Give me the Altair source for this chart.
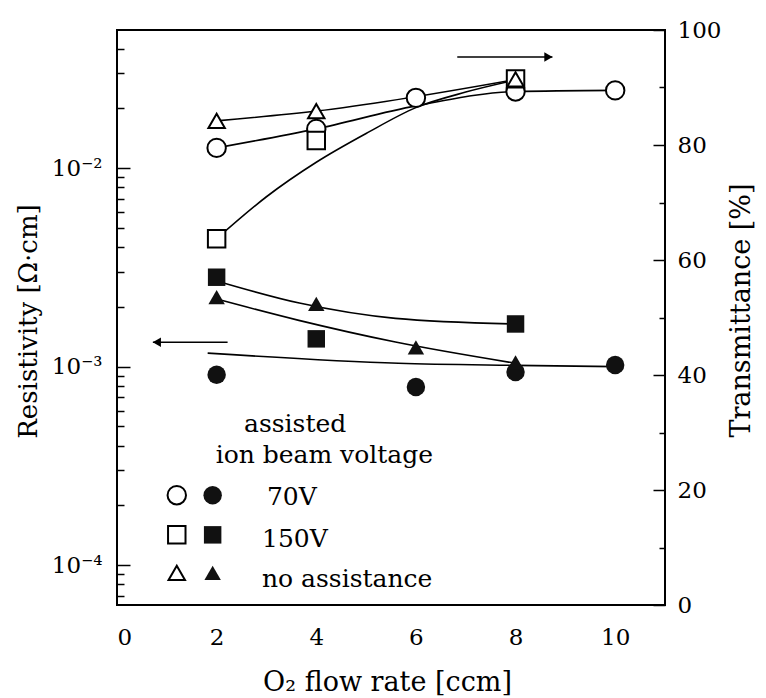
import altair as alt
import pandas as pd

FONT = "DejaVu Serif"

# ---------------- data ----------------
series_names = ["70V", "150V", "no assistance"]
shape_range = ["circle", "square", "triangle-up"]
size_range = [340, 270, 420]

# Transmittance (open symbols, right axis)
t70_x = [2, 4, 6, 8, 10]
t70_y = [79.5, 82.8, 88.2, 89.3, 89.5]
t150_x = [2, 4, 8]
t150_y = [63.7, 80.8, 91.5]
tnone_x = [2, 4, 8]
tnone_y = [84.2, 85.9, 91.4]

# Resistivity (filled symbols, left log axis)
r70_x = [2, 6, 8, 10]
r70_y = [9.1e-4, 7.9e-4, 9.4e-4, 1.02e-3]
r150_x = [2, 4, 8]
r150_y = [2.82e-3, 1.38e-3, 1.64e-3]
rnone_x = [2, 4, 6, 8]
rnone_y = [2.24e-3, 2.07e-3, 1.25e-3, 1.05e-3]

# hand-drawn guide curves
ft70_x = [2, 4, 6, 8, 10]
ft70_y = [79.5, 82.8, 86.8, 89.3, 89.5]
ft150_x = [2, 3, 4, 5, 6, 7, 8]
ft150_y = [63.7, 71.0, 77.0, 82.0, 86.5, 89.2, 91.3]
ftnone_x = [2, 4, 8]
ftnone_y = [84.2, 85.9, 91.4]

fr70_x = [1.82, 5.65, 8, 10]
fr70_y = [1.17e-3, 1.04e-3, 1.015e-3, 1.0e-3]
fr150_x = [2, 3.66, 5.59, 8]
fr150_y = [2.70e-3, 2.09e-3, 1.75e-3, 1.64e-3]
frnone_x = [2, 3.65, 5.59, 8]
frnone_y = [2.19e-3, 1.71e-3, 1.33e-3, 1.04e-3]

# arrows
arrow_start = [6.83, 2.22]
arrow_end = [8.74, 0.72]
arrow_T = [95.3, 45.7]
arrow_head = ["triangle-right", "triangle-left"]

# in-plot legend
legend_T = [19.1, 12.2, 5.6]
legend_open_x = 1.2
legend_filled_x = 1.92
note_text = ["assisted", "ion beam voltage", "70V", "150V", "no assistance"]
note_x = [2.55, 1.98, 3.01, 2.91, 2.91]
note_T = [30.1, 24.7, 17.4, 10.1, 3.1]

x_ticks_major = [0, 2, 4, 6, 8, 10]
x_ticks_all = list(range(0, 11))
t_ticks_major = [0, 20, 40, 60, 80, 100]
t_ticks_all = list(range(0, 101, 10))
r_major = [1e-4, 1e-3, 1e-2]
r_major_text = ["10⁻⁴", "10⁻³", "10⁻²"]
r_ticks_all = [k * 10.0 ** n for n in (-5, -4, -3, -2) for k in range(1, 10)]
r_ticks_all = [v for v in r_ticks_all if 6.3e-5 <= v <= 0.0496]

# ---------------- tables ----------------
def pts(xs, ys, name):
    return pd.DataFrame({"x": xs, "y": ys, "series": name})

t_pts = pd.concat([pts(t70_x, t70_y, series_names[0]),
                   pts(t150_x, t150_y, series_names[1]),
                   pts(tnone_x, tnone_y, series_names[2])], ignore_index=True)
r_pts = pd.concat([pts(r70_x, r70_y, series_names[0]),
                   pts(r150_x, r150_y, series_names[1]),
                   pts(rnone_x, rnone_y, series_names[2])], ignore_index=True)
t_fit = pd.concat([pts(ft70_x, ft70_y, series_names[0]),
                   pts(ft150_x, ft150_y, series_names[1]),
                   pts(ftnone_x, ftnone_y, series_names[2])], ignore_index=True)
r_fit = pd.concat([pts(fr70_x, fr70_y, series_names[0]),
                   pts(fr150_x, fr150_y, series_names[1]),
                   pts(frnone_x, frnone_y, series_names[2])], ignore_index=True)

arrows = pd.DataFrame({"x0": arrow_start, "x1": arrow_end, "y": arrow_T,
                       "head": arrow_head})
arrows["xh"] = [e - 0.08 if e > s else e + 0.08 for s, e in zip(arrow_start, arrow_end)]

leg_open = pd.DataFrame({"x": [legend_open_x] * 3, "y": legend_T, "series": series_names})
leg_fill = pd.DataFrame({"x": [legend_filled_x] * 3, "y": legend_T, "series": series_names})
notes = pd.DataFrame({"x": note_x, "y": note_T, "text": note_text})

# ---------------- scales & axes ----------------
W, H = 548, 575
x_scale = alt.Scale(domain=[0, 11], nice=False, zero=False)
r_scale = alt.Scale(type="log", domain=[6.3e-5, 0.0496], nice=False)
t_scale = alt.Scale(domain=[0, 100], nice=False, zero=False)
shape_scale = alt.Scale(domain=series_names, range=shape_range)
size_scale = alt.Scale(domain=series_names, range=size_range)

lab = dict(labelFont=FONT, labelFontSize=23, labelColor="black",
           titleFont=FONT, titleFontWeight="normal", titleColor="black",
           grid=False, domain=False)

x_main_axis = alt.Axis(orient="bottom", values=x_ticks_major, format="d", ticks=False, tickSize=0,
                       labelPadding=21, title="O₂ flow rate [ccm]", titleX=270, titleY=77,
                       titleFontSize=27, titleAlign="center", titleBaseline="middle", **lab)
x_tick_axis = alt.Axis(orient="top", offset=-H, values=x_ticks_all, labels=False, title=None,
                       tickColor="black", tickWidth=1.5,
                       tickSize={"condition": {"test": "datum.value % 2 == 0", "value": 12}, "value": 5},
                       grid=False, domain=False)

expr = "datum.value < 0.0003 ? '%s' : datum.value < 0.003 ? '%s' : '%s'" % tuple(r_major_text)
r_main_axis = alt.Axis(orient="left", values=r_major, labelExpr=expr, ticks=False, tickSize=0,
                       labelPadding=15, title="Resistivity [Ω·cm]", titleAngle=270,
                       titleFontSize=26, titleX=-89, titleY=291, titleAlign="center",
                       titleBaseline="middle", **lab)
r_tick_axis = alt.Axis(orient="right", offset=-W, values=r_ticks_all, labels=False, title=None,
                       tickColor="black", tickWidth=1.5,
                       tickSize={"condition": {"test": "abs(log(datum.value)/LN10 - round(log(datum.value)/LN10)) < 0.001",
                                               "value": 13}, "value": 7},
                       grid=False, domain=False)

t_main_axis = alt.Axis(orient="right", values=t_ticks_major, ticks=False, tickSize=0,
                       labelPadding=12, title="Transmittance [%]", titleAngle=270,
                       titleFontSize=27, titleX=76, titleY=280, titleAlign="center",
                       titleBaseline="middle", **lab)
t_tick_axis = alt.Axis(orient="left", offset=-W, values=t_ticks_all, labels=False, title=None,
                       tickColor="black", tickWidth=1.5,
                       tickSize={"condition": {"test": "datum.value % 20 == 0", "value": 12}, "value": 6},
                       grid=False, domain=False)

# ---------------- resistivity group ----------------
r_lines = alt.Chart(r_fit).mark_line(color="black", strokeWidth=1.6, interpolate="monotone").encode(
    x=alt.X("x:Q", scale=x_scale, axis=x_main_axis),
    y=alt.Y("y:Q", scale=r_scale, axis=r_main_axis),
    detail="series:N",
)
r_marks = alt.Chart(r_pts).mark_point(filled=True, color="#111", opacity=1).encode(
    x=alt.X("x:Q", scale=x_scale, axis=x_main_axis),
    y=alt.Y("y:Q", scale=r_scale, axis=r_tick_axis),
    shape=alt.Shape("series:N", scale=shape_scale, legend=None),
    size=alt.Size("series:N", scale=size_scale, legend=None),
)
left_group = alt.layer(r_lines, r_marks).resolve_axis(y="independent")

# ---------------- transmittance group ----------------
t_lines = alt.Chart(t_fit).mark_line(color="black", strokeWidth=1.6, interpolate="monotone").encode(
    x=alt.X("x:Q", scale=x_scale, axis=x_tick_axis),
    y=alt.Y("y:Q", scale=t_scale, axis=t_main_axis),
    detail="series:N",
)
t_marks = alt.Chart(t_pts).mark_point(filled=True, fill="white", stroke="black", strokeWidth=2,
                                      opacity=1).encode(
    x=alt.X("x:Q", scale=x_scale, axis=x_tick_axis),
    y=alt.Y("y:Q", scale=t_scale, axis=t_tick_axis),
    shape=alt.Shape("series:N", scale=shape_scale, legend=None),
    size=alt.Size("series:N", scale=size_scale, legend=None),
)
arrow_lines = alt.Chart(arrows).mark_rule(color="black", strokeWidth=1.6).encode(
    x=alt.X("x0:Q", scale=x_scale, axis=None),
    x2="x1:Q",
    y=alt.Y("y:Q", scale=t_scale, axis=None),
)
arrow_heads = alt.Chart(arrows).mark_point(filled=True, color="black", opacity=1, size=90).encode(
    x=alt.X("xh:Q", scale=x_scale, axis=None),
    y=alt.Y("y:Q", scale=t_scale, axis=None),
    shape=alt.Shape("head:N", scale=None),
)
leg_o = alt.Chart(leg_open).mark_point(filled=True, fill="white", stroke="black", strokeWidth=2,
                                       opacity=1).encode(
    x=alt.X("x:Q", scale=x_scale, axis=None),
    y=alt.Y("y:Q", scale=t_scale, axis=None),
    shape=alt.Shape("series:N", scale=shape_scale, legend=None),
    size=alt.Size("series:N", scale=size_scale, legend=None),
)
leg_f = alt.Chart(leg_fill).mark_point(filled=True, color="#111", opacity=1).encode(
    x=alt.X("x:Q", scale=x_scale, axis=None),
    y=alt.Y("y:Q", scale=t_scale, axis=None),
    shape=alt.Shape("series:N", scale=shape_scale, legend=None),
    size=alt.Size("series:N", scale=size_scale, legend=None),
)
note_marks = alt.Chart(notes).mark_text(font=FONT, fontSize=25, color="black", align="left",
                                        baseline="alphabetic").encode(
    x=alt.X("x:Q", scale=x_scale, axis=None),
    y=alt.Y("y:Q", scale=t_scale, axis=None),
    text="text:N",
)
right_group = alt.layer(t_lines, t_marks, arrow_lines, arrow_heads, leg_o, leg_f,
                        note_marks).resolve_axis(y="independent")

chart = alt.layer(left_group, right_group).resolve_scale(y="independent").resolve_axis(
    x="independent", y="independent"
).properties(
    width=W, height=H,
    padding={"left": 109, "top": 22, "right": 93, "bottom": 92},
    autosize=alt.AutoSizeParams(type="none"),
    background="white",
).configure_view(stroke="black", strokeWidth=2)

chart.save("out.html", embed_options={"renderer": "svg", "actions": False})
